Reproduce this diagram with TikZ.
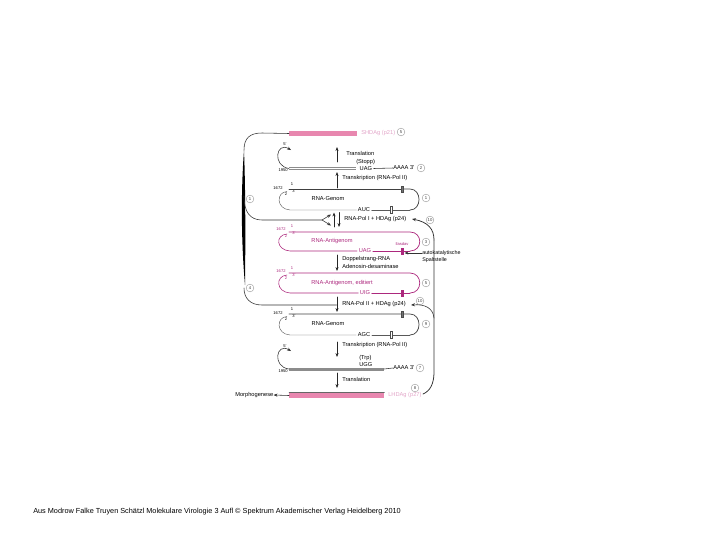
\documentclass[tikz,border=0pt]{standalone}
\usepackage{fontspec}
\setmainfont{Liberation Sans}
\usetikzlibrary{arrows.meta}
\definecolor{antired}{RGB}{172,40,125}
\definecolor{barpink}{RGB}{232,135,175}
\definecolor{textpink}{RGB}{226,165,200}
\begin{document}
\begin{tikzpicture}[x=0.025cm,y=-0.025cm,>={Stealth[length=2.8pt,width=2.2pt]},font=\fontsize{4.05}{4.5}\selectfont,line cap=round,
  lab/.style={inner sep=0pt,anchor=west},
  tiny/.style={inner sep=0pt,font=\fontsize{2.9}{3}\selectfont},
  numc/.style={draw=black!40,circle,inner sep=0pt,line width=0.3pt,minimum size=5.5pt,text=black!75,font=\fontsize{3}{3}\selectfont},
  bar/.style={fill=barpink,inner sep=0pt,minimum height=3.6pt},
  mrna/.style={fill=black!45},
  genome/.style={black!75,line width=0.5pt},
  anti/.style={antired,line width=0.5pt},
  lowerline/.style={black!65,line width=0.3pt},
  antilow/.style={antired,line width=0.4pt},
  step arrow/.style={->,black!85,line width=0.45pt},
  link/.style={black!80,line width=0.4pt},
  codon/.style={inner sep=1pt}]
\useasboundingbox (0,0) rectangle (720,540);
% left feedback lines
\node[numc] (c1) at (250,199) {1};
\node[numc] (c4) at (250,288) {4};
\fill[black] (244,150) .. controls (241,190) and (241,240) .. (245,285) .. controls (245.5,240) and (245.5,190) .. (244,150) -- cycle;
\node[bar,minimum width=48pt,anchor=west] (sbar) at (289,133.5) {};
\node[lab,text=textpink] (sdag) at (361,133) {SHDAg (p21)};
\node[numc] (c5a) at (401,132) {5};
\coordinate (fork) at (322,220);
\draw[link] (sbar.west) -- (262,133) .. controls (250,133) and (244,138) .. (244,150);
\draw[link] (244,196) .. controls (244,212) and (250,220) .. (262,220) -- (fork);
\draw[link,->] (fork) -- (331,214.5);
\draw[link,->] (fork) -- (331,225.5);
\coordinate (j4) at (336.5,305);
\draw[link] (244,288) .. controls (244,298) and (250,305) .. (262,305) -- (j4);
% first mRNA
\node[lab] (tl1) at (346,153) {Translation};
\node[lab] (stopp) at (356,162) {(Stopp)};
\node[codon,anchor=west] (uag1) at (358,168.5) {UAG};
\node[lab] (aaaa1) at (393,168) {AAAA 3'};
\node[numc] (c2) at (421,168) {2};
\node[tiny,anchor=east] (n1950a) at (288,170.5) {1950};
\node[tiny] (p5a) at (285,144) {5'};
\coordinate (m1a) at (289,168.5);
\coordinate (m1b) at (356,168.5);
\fill[mrna] (289,167) rectangle (356,170);
\draw[white,line width=0.4pt,line cap=butt] (m1a) -- (m1b);
\draw[link] (uag1.east) -- (aaaa1.west);
\draw[link,->] (m1a) .. controls (272,166) and (276,141) .. (291,150);
\coordinate (a1a) at (337,162);
\coordinate (a1b) at (337,147);
\draw[step arrow] (a1a) -- (a1b);
\coordinate (a2a) at (337,188);
\coordinate (a2b) at (337,172);
\draw[step arrow] (a2a) -- (a2b);
\node[lab] (tk1) at (342,178) {Transkription (RNA-Pol II)};
% genome top
\node[tiny] (n1672a) at (278,188) {1672};
\node[tiny] (one1) at (292,184) {1};
\node[tiny] (two1) at (286,194) {2};
\node[tiny] (p3a) at (294,191) {3'};
\node (gen1) at (328,199) {RNA-Genom};
\node[codon] (auc) at (364,210) {AUC};
\node[numc] (c1r) at (426,198) {1};
\draw[genome] (289,189) -- (402,189);
\draw[genome] (402,189) -- (410,189) .. controls (422,189) and (422,210) .. (410,210);
\draw[lowerline] (287,191.5) .. controls (276,192) and (276,209) .. (290,210) -- (auc.west);
\draw[lowerline] (auc.east) -- (410,210);
\draw[fill=black!55,draw=black!70,line width=0.2pt] (401,186) rectangle (403.5,192);
\draw[fill=white,draw=black!70,line width=0.3pt] (390,206.5) rectangle (392.5,213.5);
% replication step
\coordinate (a3a) at (334,227);
\coordinate (a3b) at (334,212.5);
\draw[step arrow] (a3a) -- (a3b);
\coordinate (a4a) at (339,212.5);
\coordinate (a4b) at (339,227);
\draw[step arrow] (a4a) -- (a4b);
\node[lab] (pol1) at (344,219) {RNA-Pol I + HDAg (p24)};
\node[numc] (c10a) at (430,220) {10};
% first antigenome
\node[tiny,text=antired] (n1672b) at (281,229) {1672};
\node[tiny,text=antired] (one2) at (292,226) {1};
\node[tiny,text=antired] (two2) at (286,236) {2};
\node[tiny,text=antired] (p3b) at (294,233) {3'};
\node[text=antired] (ant1) at (332,241) {RNA-Antigenom};
\node[tiny,text=antired] (fast) at (402,244) {Ilasdav};
\node[codon,text=antired] (uag2) at (365,251) {UAG};
\node[numc] (c3) at (426,242) {3};
\draw[anti] (289,232) -- (410,232) .. controls (423,232) and (423,251) .. (410,251);
\draw[antilow] (287,234) .. controls (275,235) and (276,250) .. (290,251) -- (uag2.west);
\draw[antilow] (uag2.east) -- (410,251);
\fill[antired] (401,247.5) rectangle (403.5,254.5);
\node[lab,font=\fontsize{3.8}{4}\selectfont] (auto) at (422,253) {autokatalytische};
\node[lab,font=\fontsize{3.8}{4}\selectfont] (spalt) at (422,260) {Spaltstelle};
\draw[link,->] (auto.west) -- (404.5,253);
\node[lab] (ds) at (342,259) {Doppelstrang-RNA};
\node[lab] (ada) at (342,266) {Adenosin-desaminase};
\coordinate (a5a) at (337,255);
\coordinate (a5b) at (337,271);
\draw[step arrow] (a5a) -- (a5b);
% second antigenome
\node[tiny,text=antired] (n1672c) at (281,271) {1672};
\node[tiny,text=antired] (one3) at (292,268) {1};
\node[tiny,text=antired] (two3) at (286,278) {2};
\node[tiny,text=antired] (p3c) at (294,275) {3'};
\node[text=antired] (ant2) at (342,283) {RNA-Antigenom, editiert};
\node[codon,text=antired] (uig) at (365,293) {UIG};
\node[numc] (c5b) at (426,283) {5};
\draw[anti] (289,273) -- (410,273) .. controls (423,273) and (423,293) .. (410,293);
\draw[antilow] (287,275) .. controls (275,276) and (276,292) .. (290,293) -- (uig.west);
\draw[antilow] (uig.east) -- (410,293);
\fill[antired] (401,289.5) rectangle (403.5,296.5);
\coordinate (a6a) at (337,297);
\coordinate (a6b) at (337,312);
\draw[step arrow] (a6a) -- (a6b);
\node[lab] (pol2) at (342,304) {RNA-Pol II + HDAg (p24)};
\node[numc] (c10b) at (420,301) {10};
% second genome
\node[tiny] (n1672d) at (278,313) {1672};
\node[tiny] (one4) at (292,309) {1};
\node[tiny] (two4) at (286,319) {2};
\node[tiny] (p3d) at (294,316) {3'};
\node (gen2) at (328,324) {RNA-Genom};
\node[codon] (agc) at (364,335) {AGC};
\node[numc] (c9) at (426,324) {9};
\draw[genome] (289,314) -- (410,314) .. controls (422,314) and (422,335) .. (410,335);
\draw[lowerline] (287,316.5) .. controls (276,317) and (276,334) .. (290,335) -- (agc.west);
\draw[lowerline] (agc.east) -- (410,335);
\draw[fill=black!55,draw=black!70,line width=0.2pt] (401,311) rectangle (403.5,317);
\draw[fill=white,draw=black!70,line width=0.3pt] (390,331.5) rectangle (392.5,338.5);
\coordinate (a7a) at (337,342);
\coordinate (a7b) at (337,357);
\draw[step arrow] (a7a) -- (a7b);
\node[lab] (tk2) at (342,345) {Transkription (RNA-Pol II)};
% second mRNA
\node[lab] (trp) at (359,358) {(Trp)};
\node[lab] (ugg) at (359,364.5) {UGG};
\node[lab] (aaaa2) at (393,368) {AAAA 3'};
\node[numc] (c7) at (420,368) {7};
\node[tiny,anchor=east] (n1950b) at (288,371) {1950};
\node[tiny] (p5b) at (285,346) {5'};
\coordinate (m2a) at (289,369);
\coordinate (m2b) at (384,369);
\fill[mrna] (289,367.5) rectangle (384,370.5);
\draw[link] (m2b) -- (aaaa2.west);
\draw[link,->] (m2a) .. controls (272,367) and (276,342) .. (291,351);
\coordinate (a8a) at (337,373);
\coordinate (a8b) at (337,388);
\draw[step arrow] (a8a) -- (a8b);
\node[lab] (tl2) at (342,379) {Translation};
% bottom bar
\node[bar,minimum width=67.5pt,anchor=west] (lbar) at (289,395.5) {};
\draw[black!60,line width=0.3pt] (lbar.north west) -- (lbar.north east);
\node[lab,text=textpink] (ldag) at (388,395) {LHDAg (p27)};
\node[lab] (morph) at (235,395) {Morphogenese};
\draw[link,->] (lbar.west) -- (morph.east);
\node[numc] (c8) at (415,388) {8};
% right feedback line
\coordinate (rtop) at (434,240);
\draw[link,line width=0.55pt,->] (rtop) .. controls (434,229) and (428,222) .. (412,219);
\draw[link,line width=0.55pt] (rtop) -- (434,372) .. controls (434,384) and (430,391) .. (423,394);
\draw[link,->] (434,318) .. controls (433,308) and (425,304) .. (411,305);
% source line
\node[lab,font=\fontsize{5.2}{5.5}\selectfont] (src) at (33,512) {Aus Modrow Falke Truyen Schätzl Molekulare Virologie 3 Aufl © Spektrum Akademischer Verlag Heidelberg 2010};
\end{tikzpicture}
\end{document}
